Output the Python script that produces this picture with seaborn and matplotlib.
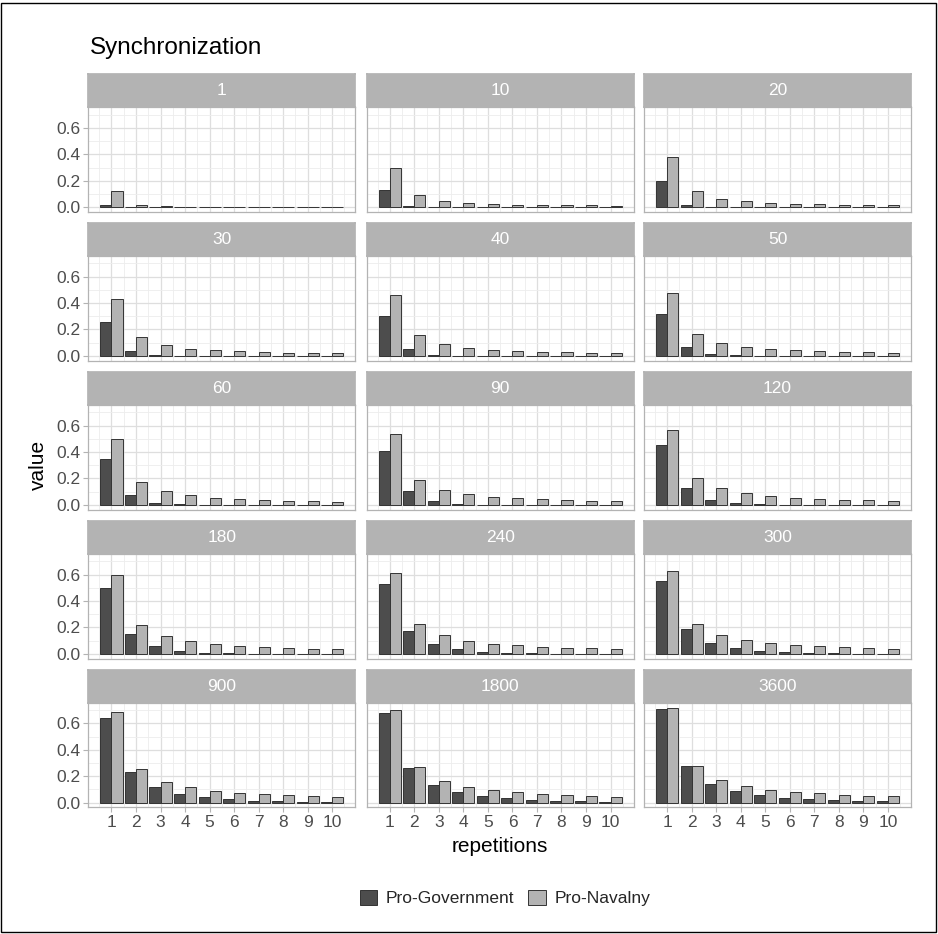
import pandas as pd
import matplotlib
matplotlib.use("Agg")
import matplotlib.pyplot as plt
from matplotlib.patches import Patch, Rectangle
import seaborn as sns

# facet windows (seconds) and repetition counts
windows = [1, 10, 20, 30, 40, 50, 60, 90, 120, 180, 240, 300, 900, 1800, 3600]
repetitions = [1, 2, 3, 4, 5, 6, 7, 8, 9, 10]
groups = ["Pro-Government", "Pro-Navalny"]

# one row per window
pro_government = [
    [0.020, 0.001, 0.000, 0.000, 0.000, 0.000, 0.000, 0.000, 0.000, 0.000],
    [0.130, 0.005, 0.001, 0.000, 0.000, 0.000, 0.000, 0.000, 0.000, 0.000],
    [0.200, 0.020, 0.003, 0.001, 0.000, 0.000, 0.000, 0.000, 0.000, 0.000],
    [0.260, 0.040, 0.005, 0.001, 0.000, 0.000, 0.000, 0.000, 0.000, 0.000],
    [0.300, 0.050, 0.008, 0.002, 0.000, 0.000, 0.000, 0.000, 0.000, 0.000],
    [0.320, 0.065, 0.012, 0.003, 0.001, 0.000, 0.000, 0.000, 0.000, 0.000],
    [0.345, 0.075, 0.017, 0.004, 0.001, 0.000, 0.000, 0.000, 0.000, 0.000],
    [0.405, 0.105, 0.030, 0.008, 0.002, 0.001, 0.000, 0.000, 0.000, 0.000],
    [0.450, 0.125, 0.040, 0.013, 0.004, 0.001, 0.000, 0.000, 0.000, 0.000],
    [0.500, 0.150, 0.060, 0.025, 0.010, 0.004, 0.002, 0.001, 0.000, 0.000],
    [0.530, 0.170, 0.075, 0.035, 0.017, 0.007, 0.003, 0.002, 0.001, 0.001],
    [0.555, 0.185, 0.085, 0.042, 0.022, 0.011, 0.005, 0.003, 0.002, 0.001],
    [0.645, 0.235, 0.115, 0.065, 0.040, 0.025, 0.015, 0.010, 0.006, 0.004],
    [0.680, 0.260, 0.135, 0.080, 0.050, 0.033, 0.022, 0.015, 0.010, 0.007],
    [0.710, 0.275, 0.140, 0.085, 0.055, 0.037, 0.025, 0.017, 0.012, 0.009],
]
pro_navalny = [
    [0.120, 0.020, 0.005, 0.003, 0.002, 0.002, 0.001, 0.001, 0.001, 0.001],
    [0.300, 0.090, 0.045, 0.030, 0.025, 0.020, 0.018, 0.015, 0.013, 0.012],
    [0.380, 0.120, 0.065, 0.045, 0.033, 0.027, 0.023, 0.020, 0.018, 0.016],
    [0.430, 0.140, 0.080, 0.055, 0.042, 0.034, 0.028, 0.024, 0.021, 0.019],
    [0.460, 0.155, 0.090, 0.062, 0.047, 0.038, 0.032, 0.027, 0.024, 0.021],
    [0.480, 0.165, 0.100, 0.068, 0.052, 0.042, 0.035, 0.030, 0.026, 0.023],
    [0.500, 0.170, 0.105, 0.072, 0.055, 0.045, 0.037, 0.032, 0.028, 0.025],
    [0.540, 0.190, 0.115, 0.080, 0.062, 0.050, 0.042, 0.036, 0.032, 0.028],
    [0.565, 0.200, 0.125, 0.087, 0.066, 0.054, 0.046, 0.040, 0.035, 0.031],
    [0.595, 0.215, 0.135, 0.095, 0.073, 0.060, 0.050, 0.044, 0.039, 0.035],
    [0.615, 0.225, 0.140, 0.100, 0.078, 0.064, 0.054, 0.047, 0.042, 0.037],
    [0.630, 0.230, 0.145, 0.105, 0.082, 0.067, 0.057, 0.050, 0.044, 0.039],
    [0.685, 0.255, 0.160, 0.115, 0.090, 0.075, 0.065, 0.057, 0.050, 0.045],
    [0.705, 0.270, 0.165, 0.120, 0.095, 0.078, 0.067, 0.058, 0.051, 0.046],
    [0.720, 0.275, 0.170, 0.125, 0.098, 0.080, 0.070, 0.060, 0.053, 0.048],
]

rows = []
for w, gov, nav in zip(windows, pro_government, pro_navalny):
    for r, g, n in zip(repetitions, gov, nav):
        rows.append({"window": w, "repetitions": r, "group": groups[0], "value": g})
        rows.append({"window": w, "repetitions": r, "group": groups[1], "value": n})
df = pd.DataFrame(rows)

sns.set_theme(style="white")
plt.rcParams["font.family"] = ["Liberation Sans", "DejaVu Sans"]

palette = {"Pro-Government": "#4d4d4d", "Pro-Navalny": "#b3b3b3"}
edge = "#333333"
grey70 = "#b3b3b3"
txt = "#4d4d4d"

W, H = 938, 934
fig = plt.figure(figsize=(W / 100, H / 100), dpi=100)


def box(x, y, w, h):
    return [x / W, 1 - (y + h) / H, w / W, h / H]


col_left = [88.3, 366.7, 644.0]
strip_top = [74.0, 222.7, 371.7, 520.7, 669.5]
panel_w, strip_h, panel_h = 267.0, 33.4, 104.5

for i, w in enumerate(windows):
    r, c = divmod(i, 3)
    sub = df[df["window"] == w]

    ax = fig.add_axes(box(col_left[c], strip_top[r] + strip_h, panel_w, panel_h))
    sns.barplot(data=sub, x="repetitions", y="value", hue="group",
                hue_order=groups, palette=palette, native_scale=True,
                width=0.9, edgecolor=edge, linewidth=0.7, legend=False, ax=ax)
    ax.set_xlim(0.055, 10.945)
    ax.set_ylim(-0.036, 0.756)
    ax.set_xticks(repetitions)
    ax.set_xticklabels([str(x) for x in repetitions])
    ax.set_xticks([x + 0.5 for x in range(0, 11)], minor=True)
    ax.set_yticks([0.0, 0.2, 0.4, 0.6])
    ax.set_yticklabels(["0.0", "0.2", "0.4", "0.6"])
    ax.set_yticks([0.1, 0.3, 0.5, 0.7], minor=True)
    ax.grid(which="major", color="#dedede", lw=0.9)
    ax.grid(which="minor", color="#ededed", lw=0.6)
    ax.set_axisbelow(True)
    ax.set_xlabel("")
    ax.set_ylabel("")
    for s in ax.spines.values():
        s.set_color(grey70)
        s.set_linewidth(0.9)
    ax.tick_params(which="major", length=3.5, width=0.8, color=grey70,
                   labelcolor=txt, labelsize=12.5, pad=2)
    ax.tick_params(which="minor", length=0)
    ax.tick_params(axis="x", bottom=(r == 4), labelbottom=(r == 4))
    ax.tick_params(axis="y", left=(c == 0), labelleft=(c == 0))

    sax = fig.add_axes(box(col_left[c], strip_top[r], panel_w, strip_h))
    sax.set_facecolor(grey70)
    sax.set_xticks([])
    sax.set_yticks([])
    for s in sax.spines.values():
        s.set_color(grey70)
    sax.text(0.5, 0.5, str(w), color="white", fontsize=12.5,
             ha="center", va="center", transform=sax.transAxes)

fig.text(90 / W, 1 - 48 / H, "Synchronization", fontsize=17.5,
         ha="left", va="center", color="black")
fig.text(38 / W, 1 - 465 / H, "value", fontsize=15, rotation=90,
         ha="center", va="center", color="black")
fig.text(499.5 / W, 1 - 846 / H, "repetitions", fontsize=15,
         ha="center", va="center", color="black")

handles = [Patch(facecolor=palette[g], edgecolor=edge, linewidth=0.7) for g in groups]
fig.legend(handles=handles, labels=groups, loc="center",
           bbox_to_anchor=(505 / W, 1 - 898 / H), ncol=2, frameon=False,
           fontsize=12.5, handlelength=1.0, handleheight=1.0,
           columnspacing=0.8, handletextpad=0.5)

fig.patches.append(Rectangle((0.001, 0.002), 0.997, 0.995, transform=fig.transFigure,
                             fill=False, edgecolor="black", linewidth=1))

fig.savefig("out.png", dpi=100)
